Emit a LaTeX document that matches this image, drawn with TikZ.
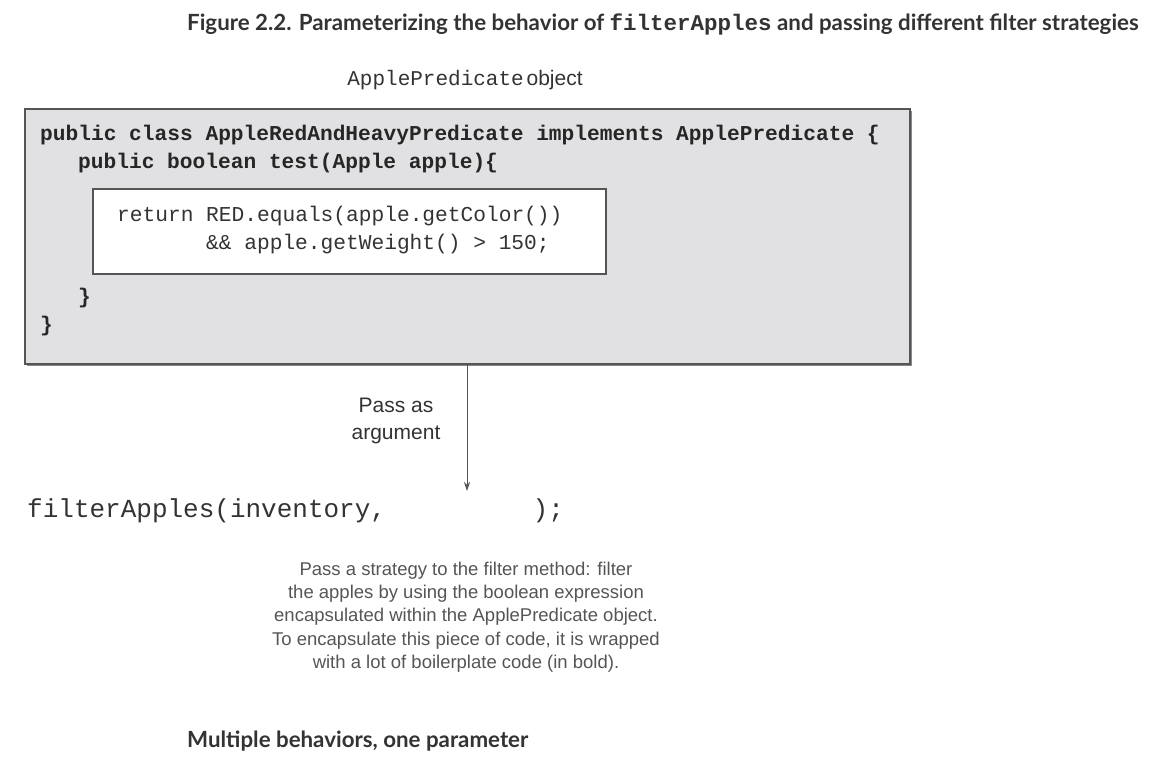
\documentclass[tikz,border=0pt]{standalone}
\usepackage{fontspec}
\setmainfont{Liberation Sans}
\newfontfamily\headfont{Lato}
\newfontfamily\codefont{Liberation Mono}
\newfontfamily\labelfont{Liberation Sans}
\usetikzlibrary{arrows.meta}
\definecolor{boxgray}{HTML}{E1E1E3}
\definecolor{edgegray}{HTML}{555555}
\definecolor{headtext}{HTML}{333333}
\definecolor{notegray}{HTML}{555555}
\tikzset{
  heading/.style={anchor=west, inner sep=0pt, text=headtext, font=\headfont\bfseries\fontsize{22.3}{26}\selectfont},
  codeline/.style={anchor=west, inner sep=0pt, font=\codefont\bfseries\fontsize{21.2}{24}\selectfont, text=black!85},
  codeplain/.style={anchor=west, inner sep=0pt, font=\codefont\fontsize{21.2}{24}\selectfont, text=black!80},
  outerbox/.style={draw=edgegray, line width=1.2pt, fill=boxgray},
  innerbox/.style={draw=edgegray, line width=1.2pt, fill=white},
  lbl/.style={inner sep=0pt, align=center, text=headtext, font=\labelfont\fontsize{21}{27}\selectfont},
  note/.style={inner sep=0pt, align=center, text=notegray, font=\labelfont\fontsize{18.5}{23.3}\selectfont},
  conn/.style={draw=edgegray, line width=1pt, -{Stealth[length=9pt,width=6pt]}}
}
\begin{document}
\begin{tikzpicture}[x=1pt,y=-1pt]
\useasboundingbox (0,0) rectangle (1162,768);
% title
\node[heading] (title) at (187,25) {Figure 2.2. Parameterizing the behavior of {\codefont\fontsize{22.5}{26}\selectfont filterApples} and passing different filter strategies};
% caption above box
\node[anchor=center, inner sep=0pt, text=headtext] (objlbl) at (465,80) {{\codefont\fontsize{21}{24}\selectfont ApplePredicate} {\labelfont\fontsize{21}{24}\selectfont object}};
% outer box with shadow
\fill[edgegray!70] (27,111) rectangle (912,366);
\path[outerbox] (25,109) rectangle (910,364);
\coordinate (outerS) at (467,364);
\node[codeline] (l1) at (40,135) {public class AppleRedAndHeavyPredicate implements ApplePredicate \{};
\node[codeline] (l2) at (78,163) {public boolean test(Apple apple)\{};
% inner box
\path[innerbox] (93,189) rectangle (606,274);
\node[codeplain] (r1) at (117,216) {return RED.equals(apple.getColor())};
\node[codeplain] (r2) at (206,244) {\&\& apple.getWeight() > 150;};
\node[codeline] (b1) at (78,298) {\}};
\node[codeline] (b2) at (40,326) {\}};
% arrow
\coordinate (arrowEnd) at (467,491);
\draw[conn] (outerS) -- (arrowEnd);
\node[lbl] (pass) at (396,421) {Pass as\\argument};
% call
\node[anchor=west, inner sep=0pt, font=\codefont\fontsize{26}{30}\selectfont, text=black!80] (call) at (27,511) {filterApples(inventory,\hspace{9.4\fontcharwd\font`a});};
% note
\node[note] (desc) at (466,617) {Pass a strategy to the filter method: filter\\the apples by using the boolean expression\\encapsulated within the ApplePredicate object.\\To encapsulate this piece of code, it is wrapped\\with a lot of boilerplate code (in bold).};
% footer
\node[heading] (foot) at (187,741) {Multiple behaviors, one parameter};
\end{tikzpicture}
\end{document}
